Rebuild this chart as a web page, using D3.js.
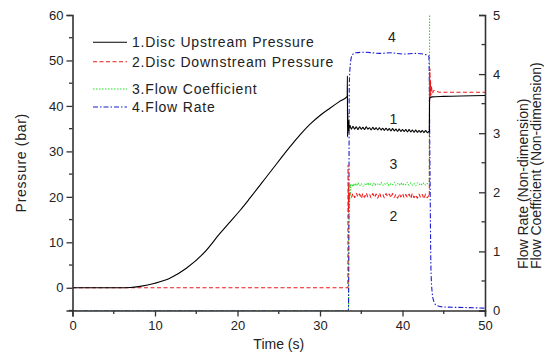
<!DOCTYPE html>
<html>
<head>
<meta charset="utf-8">
<script src="https://cdn.jsdelivr.net/npm/d3@7"></script>
<style>
  body { margin: 0; background: #fff; }
  svg { display: block; font-family: Arial, "Liberation Sans", sans-serif; }
</style>
</head>
<body>
<div id="chart"></div>
<script>
// Datos (tiempo en s)
const upstreamRise = [[0, 0], [5.8, 0], [7, 0.05], [8.2, 0.3], [10, 1.0], [11.8, 2.1], [13.8, 4.3], [15.9, 7.6],
  [17.9, 12], [19.1, 14.5], [20.3, 17.0], [21.5, 19.7], [23.9, 25.3], [26.4, 31.1], [27.6, 33.7], [28.8, 36.0],
  [30, 37.9], [31.2, 39.5], [32.3, 40.9], [33.3, 42.1], [33.32, 46.6], [33.34, 33.2], [33.37, 38.5], [33.4, 34.0],
  [33.45, 36.8], [33.5, 34.6]];
const upstreamEnd = [[43.25, 34.3], [43.28, 41.6], [43.35, 41.8], [43.6, 42.0], [45, 42.1], [50, 42.3]];

const downstreamStart = [[0, 0], [33.38, 0], [33.4, 27], [33.44, 16.5], [33.48, 22.5], [33.52, 19.2]];
const downstreamEnd = [[43.25, 20.1], [43.28, 47.5], [43.3, 41.2], [43.33, 48.2], [43.36, 42], [43.4, 45.6],
  [43.45, 42.4], [43.5, 44.4], [43.6, 42.7], [43.8, 43.4], [44.5, 43.0], [50, 43.0]];

const coefStart = [[0, 0], [33.45, 0], [33.5, 1.4], [33.6, 1.87], [33.8, 2.08]];
const coefEnd = [[43.25, 2.13], [43.3, 9]];

const flowRate = [[0, 0], [33.45, 0], [33.5, 1.5], [33.55, 3.8], [33.7, 4.2], [33.9, 4.32], [34.3, 4.36],
  [35.5, 4.37], [37.2, 4.35], [38.5, 4.36], [40.1, 4.34], [41.6, 4.35], [42.8, 4.33], [43.2, 4.3],
  [43.33, 2.4], [43.45, 0.7], [43.6, 0.3], [43.8, 0.15], [44.1, 0.09], [45, 0.06], [47.5, 0.05], [50, 0.04]];

// Tramo estable con ruido (mismos tiempos para las tres series)
const plateauTimes = [33.6, 33.8, 34.0, 34.2, 34.4, 34.6, 34.8, 35.0, 35.2, 35.4, 35.6, 35.8, 36.0, 36.2, 36.4,
  36.6, 36.8, 37.0, 37.2, 37.4, 37.6, 37.8, 38.0, 38.2, 38.4, 38.6, 38.8, 39.0, 39.2, 39.4, 39.6, 39.8, 40.0,
  40.2, 40.4, 40.6, 40.8, 41.0, 41.2, 41.4, 41.6, 41.8, 42.0, 42.2, 42.4, 42.6, 42.8, 43.0, 43.2];
const upstreamPlateau = [35.8, 34.9, 35.5, 34.9, 35.4, 34.8, 35.4, 34.9, 35.3, 34.8, 35.4, 34.9, 35.2, 34.7,
  35.3, 34.8, 35.2, 34.7, 35.2, 34.7, 35.1, 34.6, 35.1, 34.6, 35.0, 34.5, 35.0, 34.5, 34.9, 34.4, 34.9, 34.4,
  34.8, 34.4, 34.8, 34.3, 34.8, 34.3, 34.7, 34.2, 34.7, 34.2, 34.6, 34.2, 34.6, 34.1, 34.6, 34.1, 34.4];
const downstreamPlateau = [20.9, 19.9, 20.7, 19.8, 20.8, 20.0, 20.6, 19.7, 20.7, 19.9, 20.8, 20.0, 20.5, 19.8,
  20.7, 19.9, 20.6, 19.7, 20.8, 20.0, 20.5, 19.8, 20.7, 20.1, 20.6, 19.8, 20.7, 19.9, 20.5, 19.7, 20.6, 20.0,
  20.7, 19.8, 20.5, 19.9, 20.6, 19.7, 20.7, 19.8, 20.4, 19.7, 20.6, 19.9, 20.5, 19.6, 20.6, 19.8, 20.3];
const coefPlateau = [2.09, 2.14, 2.10, 2.15, 2.11, 2.16, 2.11, 2.15, 2.10, 2.14, 2.12, 2.16, 2.12, 2.15, 2.11,
  2.16, 2.12, 2.14, 2.12, 2.17, 2.12, 2.15, 2.13, 2.16, 2.11, 2.15, 2.13, 2.17, 2.12, 2.15, 2.12, 2.16, 2.12,
  2.15, 2.13, 2.17, 2.12, 2.16, 2.12, 2.15, 2.11, 2.16, 2.13, 2.15, 2.12, 2.16, 2.12, 2.15, 2.13];

const legendLabels = ["1.Disc Upstream Pressure", "2.Disc Downstream Pressure", "3.Flow Coefficient", "4.Flow Rate"];
const curveNumbers = [["4", 38.7, 4.62, "right"], ["1", 38.9, 37.2, "left"], ["3", 38.9, 2.48, "right"], ["2", 38.9, 15.7, "left"]];

const pressureTicks = [0, 10, 20, 30, 40, 50, 60];
const pressureMinor = [-5, 5, 15, 25, 35, 45, 55];
const timeTicks = [0, 10, 20, 30, 40, 50];
const timeMinor = [5, 15, 25, 35, 45];
const flowTicks = [0, 1, 2, 3, 4, 5];
const flowMinor = [0.5, 1.5, 2.5, 3.5, 4.5];

const width = 544, height = 356;
const plotLeft = 72.5, plotRight = 485, plotTop = 15, plotBottom = 310.5;

const svg = d3.select("#chart").append("svg")
  .attr("width", width).attr("height", height);

const x = d3.scaleLinear().domain([0, 50]).range([plotLeft, plotRight]);
const yL = d3.scaleLinear().domain([-5, 60]).range([plotBottom, plotTop]);
const yR = d3.scaleLinear().domain([0, 5]).range([plotBottom, plotTop]);

svg.append("clipPath").attr("id", "plot")
  .append("rect").attr("x", plotLeft).attr("y", plotTop - 1)
  .attr("width", plotRight - plotLeft).attr("height", plotBottom - plotTop + 1);

const join = (a, b, c) => a.concat(b, c);
const withTimes = vals => plateauTimes.map((t, i) => [t, vals[i]]);

const upstream = join(upstreamRise, withTimes(upstreamPlateau), upstreamEnd);
const downstream = join(downstreamStart, withTimes(downstreamPlateau), downstreamEnd);
const coefficient = join(coefStart, withTimes(coefPlateau), coefEnd);

const lineL = d3.line().x(d => x(d[0])).y(d => yL(d[1])).curve(d3.curveMonotoneX);
const lineR = d3.line().x(d => x(d[0])).y(d => yR(d[1])).curve(d3.curveMonotoneX);

const series = [
  { data: coefficient, line: lineR, color: "#22e022", dash: "1.5,1.5" },
  { data: flowRate, line: lineR, color: "#1c1cd0", dash: "5,2,1.5,2" },
  { data: downstream, line: lineL, color: "#f01818", dash: "4,2.5" },
  { data: upstream, line: lineL, color: "#000", dash: null }
];

const g = svg.append("g").attr("clip-path", "url(#plot)");
g.selectAll("path")
  .data(series)
  .enter()
  .append("path")
  .attr("d", d => d.line(d.data))
  .attr("fill", "none")
  .attr("stroke", d => d.color)
  .attr("stroke-width", 1.1)
  .attr("stroke-dasharray", d => d.dash);

// Ejes
const axisColor = "#333";
const leftAxis = svg.append("g").attr("transform", `translate(${plotLeft},0)`)
  .call(d3.axisLeft(yL).tickValues(pressureTicks).tickSize(6).tickPadding(3));
leftAxis.append("g").selectAll("line").data(pressureMinor).enter().append("line")
  .attr("x1", -3.5).attr("x2", 0).attr("y1", d => yL(d)).attr("y2", d => yL(d));

const bottomAxis = svg.append("g").attr("transform", `translate(0,${plotBottom})`)
  .call(d3.axisBottom(x).tickValues(timeTicks).tickSize(6).tickPadding(4));
bottomAxis.append("g").selectAll("line").data(timeMinor).enter().append("line")
  .attr("y1", 0).attr("y2", 3.5).attr("x1", d => x(d)).attr("x2", d => x(d));

const rightAxis = svg.append("g").attr("transform", `translate(${plotRight},0)`)
  .call(d3.axisRight(yR).tickValues(flowTicks).tickFormat(d3.format("d")).tickSize(-6).tickPadding(8));
rightAxis.append("g").selectAll("line").data(flowMinor).enter().append("line")
  .attr("x1", -3.5).attr("x2", 0).attr("y1", d => yR(d)).attr("y2", d => yR(d));

[leftAxis, bottomAxis, rightAxis].forEach(a => {
  a.select(".domain").attr("stroke", axisColor).attr("stroke-width", 1.6);
  a.selectAll("line").attr("stroke", axisColor).attr("stroke-width", 1.3);
  a.selectAll("text").attr("font-size", 13).attr("fill", "#222").attr("font-family", null);
});

// Titulos de ejes
svg.append("text").attr("transform", `translate(26,${(plotTop + plotBottom) / 2}) rotate(-90)`)
  .attr("text-anchor", "middle").attr("font-size", 14).attr("letter-spacing", 0.7)
  .attr("fill", "#222").text("Pressure (bar)");
svg.append("text").attr("x", (plotLeft + plotRight) / 2).attr("y", 349)
  .attr("text-anchor", "middle").attr("font-size", 14).attr("fill", "#222").text("Time (s)");
svg.append("text").attr("transform", "translate(528,269) rotate(-90)")
  .attr("font-size", 14).attr("fill", "#222").text("Flow Rate (Non-dimension)");
svg.append("text").attr("transform", "translate(541,269) rotate(-90)")
  .attr("font-size", 14).attr("fill", "#222").text("Flow Coefficient (Non-dimension)");

// Leyenda
const legendY = [42.3, 61.7, 89, 107];
const legend = svg.append("g");
legendLabels.forEach((label, i) => {
  const s = series[[3, 2, 0, 1][i]];
  legend.append("line").attr("x1", 93).attr("x2", 127).attr("y1", legendY[i]).attr("y2", legendY[i])
    .attr("stroke", s.color).attr("stroke-width", 1.1).attr("stroke-dasharray", s.dash);
  legend.append("text").attr("x", 132).attr("y", legendY[i] + 5)
    .attr("font-size", 14).attr("letter-spacing", 0.8).attr("fill", "#222").text(label);
});

// Numeros sobre las curvas
curveNumbers.forEach(([label, t, v, axis]) => {
  svg.append("text").attr("x", x(t)).attr("y", (axis === "right" ? yR(v) : yL(v)) + 5)
    .attr("text-anchor", "middle").attr("font-size", 14).attr("fill", "#222").text(label);
});
</script>
</body>
</html>
